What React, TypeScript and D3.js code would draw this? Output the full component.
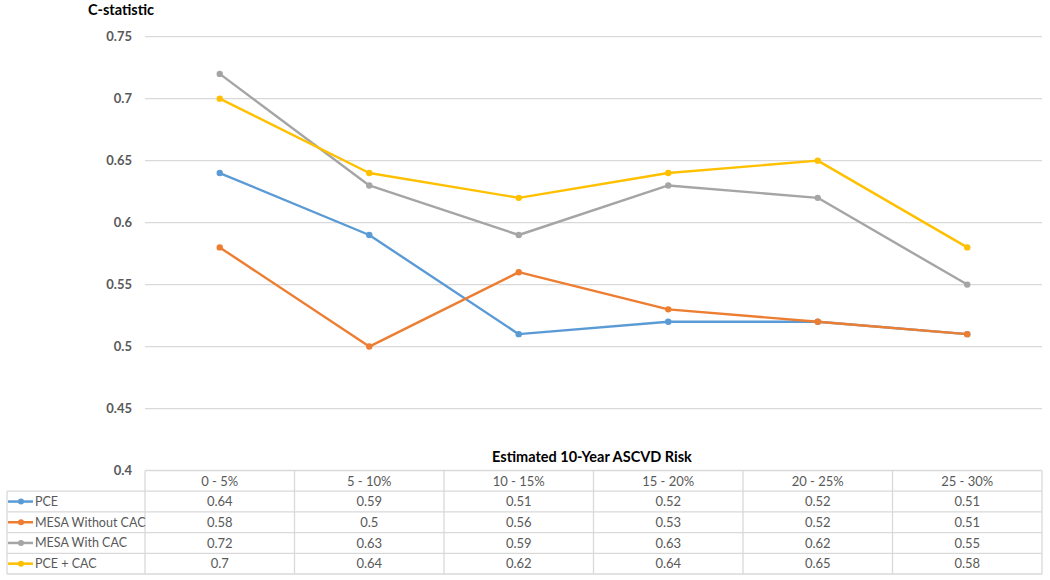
import React from "react";
import * as d3 from "d3";

const categories = ["0 - 5%", "5 - 10%", "10 - 15%", "15 - 20%", "20 - 25%", "25 - 30%"];
const seriesNames = ["PCE", "MESA Without CAC", "MESA With CAC", "PCE + CAC"];
const pce = [0.64, 0.59, 0.51, 0.52, 0.52, 0.51];
const mesaWithout = [0.58, 0.5, 0.56, 0.53, 0.52, 0.51];
const mesaWith = [0.72, 0.63, 0.59, 0.63, 0.62, 0.55];
const pceCac = [0.7, 0.64, 0.62, 0.64, 0.65, 0.58];
const yTicks = [0.4, 0.45, 0.5, 0.55, 0.6, 0.65, 0.7, 0.75];
const colors = ["#5B9BD5", "#ED7D31", "#A5A5A5", "#FFC000"];

const seriesValues = [pce, mesaWithout, mesaWith, pceCac];

export default function App() {
  const W = 1050, H = 580;
  const left = 145, right = 1042;
  const top = 36.7, bottom = 470.5;
  const tableLeft = 7;
  const rowH = 20.7;
  const font = "Lato, 'Open Sans', sans-serif";

  const x = d3.scaleBand<string>().domain(categories).range([left, right]);
  const y = d3.scaleLinear().domain([0.4, 0.75]).range([bottom, top]);
  const line = d3
    .line<number>()
    .x((_, i) => (x(categories[i]) as number) + x.bandwidth() / 2)
    .y((d) => y(d));

  const grid = "#D9D9D9";
  const textCol = "#595959";

  return (
    <svg width={W} height={H} style={{ position: "absolute", left: 0, top: 0, background: "#fff" }} fontFamily={font}>
      <rect width={W} height={H} fill="#fff" />
      {yTicks.filter((t) => t > 0.4).map((t) => (
        <line key={t} x1={left} x2={right} y1={y(t)} y2={y(t)} stroke={grid} strokeWidth={1.3} />
      ))}
      {yTicks.map((t) => (
        <text key={t} x={132} y={y(t)} dy="0.35em" textAnchor="end" fontSize={13} fontWeight="bold" fill={textCol}>
          {d3.format("")(t)}
        </text>
      ))}
      <text x={88} y={15} fontSize={14.5} fontWeight="bold" fill="#000">C-statistic</text>
      <text x={592} y={462} textAnchor="middle" fontSize={14.5} fontWeight="bold" fill="#000">
        Estimated 10-Year ASCVD Risk
      </text>

      {seriesValues.map((vals, si) => (
        <g key={si}>
          <path d={line(vals) as string} fill="none" stroke={colors[si]} strokeWidth={2.4} strokeLinejoin="round" />
          {vals.map((v, i) => (
            <circle key={i} cx={(x(categories[i]) as number) + x.bandwidth() / 2} cy={y(v)} r={3.2} fill={colors[si]} />
          ))}
        </g>
      ))}

      <g>
        <line x1={left} x2={right} y1={bottom} y2={bottom} stroke={grid} strokeWidth={1.3} />
        {seriesNames.map((_, r) => (
          <line key={r} x1={tableLeft} x2={right} y1={bottom + rowH * (r + 1)} y2={bottom + rowH * (r + 1)} stroke={grid} strokeWidth={1.3} />
        ))}
        <line x1={tableLeft} x2={right} y1={bottom + rowH * 5} y2={bottom + rowH * 5} stroke={grid} strokeWidth={1.3} />
        <line x1={tableLeft} x2={tableLeft} y1={bottom + rowH} y2={bottom + rowH * 5} stroke={grid} strokeWidth={1.3} />
        {categories.map((c) => (
          <line key={c} x1={x(c) as number} x2={x(c) as number} y1={bottom} y2={bottom + rowH * 5} stroke={grid} strokeWidth={1.3} />
        ))}
        <line x1={right} x2={right} y1={bottom} y2={bottom + rowH * 5} stroke={grid} strokeWidth={1.3} />
        {categories.map((c) => (
          <text key={c} x={(x(c) as number) + x.bandwidth() / 2} y={bottom + rowH / 2} dy="0.36em" textAnchor="middle" fontSize={13} fill={textCol}>
            {c}
          </text>
        ))}
        {seriesNames.map((name, r) => {
          const cy = bottom + rowH * (r + 1.5);
          return (
            <g key={name}>
              <line x1={8} x2={33} y1={cy} y2={cy} stroke={colors[r]} strokeWidth={2.5} />
              <circle cx={21} cy={cy} r={3} fill={colors[r]} />
              <text x={35} y={cy} dy="0.36em" fontSize={12.5} fill={textCol}>{name}</text>
              {seriesValues[r].map((v, i) => (
                <text key={i} x={(x(categories[i]) as number) + x.bandwidth() / 2} y={cy} dy="0.36em" textAnchor="middle" fontSize={13} fill={textCol}>
                  {String(v)}
                </text>
              ))}
            </g>
          );
        })}
      </g>
    </svg>
  );
}
